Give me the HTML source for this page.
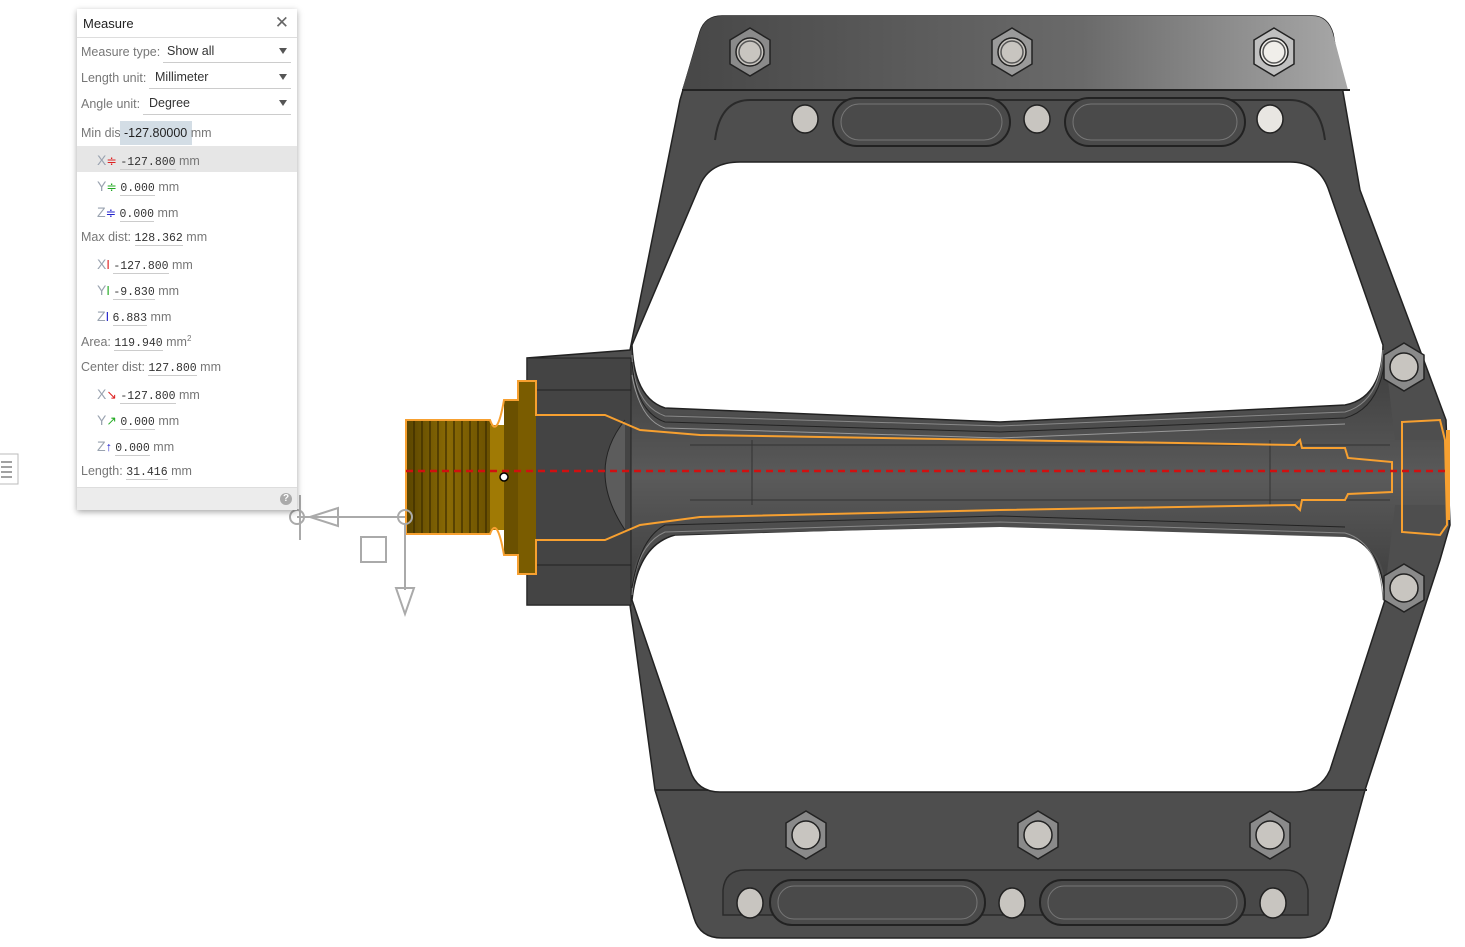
<!DOCTYPE html>
<html><head><meta charset="utf-8"><style>
body{margin:0;width:1465px;height:947px;background:#fff;position:relative;overflow:hidden;font-family:"Liberation Sans",sans-serif;}
#p{position:absolute;left:77px;top:9px;width:220px;height:501px;background:#fff;box-shadow:0 2px 6px rgba(0,0,0,.35);font-size:12.5px;color:#333;}
.r{position:absolute;left:4px;white-space:nowrap;}
.m{font-family:"Liberation Mono",monospace;font-size:11.5px;border-bottom:1px solid #ccc;color:#333}
.g{color:#777}
.ax{color:#9aa3b0;font-size:14px}
.sel{position:absolute;border-bottom:1px solid #ccc}
.tri{position:absolute;right:10px;width:0;height:0;border-left:4px solid transparent;border-right:4px solid transparent;border-top:6px solid #555}
</style></head><body>
<svg width="1465" height="947" style="position:absolute;left:0;top:0">
<defs>
<linearGradient id="tb" x1="0" x2="1"><stop offset="0" stop-color="#474747"/><stop offset="0.6" stop-color="#6a6a6a"/><stop offset="1" stop-color="#a8a8a8"/></linearGradient>
<linearGradient id="gd" x1="0" x2="1"><stop offset="0" stop-color="#5a4500"/><stop offset="0.5" stop-color="#8a6a05"/><stop offset="1" stop-color="#6a5000"/></linearGradient>
<linearGradient id="sp" y1="0" y2="1" x1="0" x2="0"><stop offset="0" stop-color="#3c3c3c"/><stop offset="0.5" stop-color="#5a5a5a"/><stop offset="1" stop-color="#3c3c3c"/></linearGradient>
</defs>
<path d="M722,16 L1312,16 Q1328,16 1333,34 L1360,190 L1420,350 L1446,420 L1450,525 L1440,560 L1365,790 L1330,918 Q1323,938 1300,938 L722,938 Q700,938 694,918 L655,790 L630,605 L527,605 L527,358 L630,350 L680,100 L700,32 Q705,16 722,16 Z" fill="#4e4e4e" stroke="#222" stroke-width="1.5"/>
<path d="M722,16 L1312,16 Q1328,16 1333,34 L1348,90 L682,90 L700,32 Q705,16 722,16 Z" fill="url(#tb)"/>
<line x1="682" y1="90" x2="1350" y2="90" stroke="#222" stroke-width="2"/>
<path d="M715,140 Q720,100 750,100 L1290,100 Q1320,100 1325,140" fill="none" stroke="#2a2a2a" stroke-width="2"/>
<line x1="655" y1="790" x2="1367" y2="790" stroke="#2a2a2a" stroke-width="2"/>
<path d="M723,915 L723,890 Q725,870 745,870 L1285,870 Q1305,870 1308,890 L1308,915 Z" fill="#484848" stroke="#2a2a2a" stroke-width="1.5"/>
<!-- holes -->
<path d="M700,185 Q710,162 740,162 L1290,162 Q1318,162 1328,188 L1383,345 Q1382,398 1345,405 L1000,422 L665,408 Q634,398 632,345 Z" fill="#fff" stroke="#222" stroke-width="1.5"/>
<path d="M632,600 Q638,545 675,535 L1000,525 L1345,535 Q1382,545 1385,600 L1330,770 Q1320,792 1295,792 L720,792 Q697,792 690,770 Z" fill="#fff" stroke="#222" stroke-width="1.5"/>
<!-- spindle body -->
<path d="M630,360 Q630,410 665,414 L1000,424 L1345,410 Q1385,400 1385,355 L1395,440 L1445,440 L1445,505 L1395,505 L1385,590 Q1385,545 1345,537 L1000,527 L665,535 Q632,540 630,600 Z" fill="url(#sp)"/>
<path d="M632,355 Q634,405 665,416 L1000,426 L1345,412 Q1380,402 1383,350" fill="none" stroke="#888" stroke-width="1"/>
<path d="M632,362 Q636,412 665,422 L1000,432 L1345,418 Q1380,408 1385,358" fill="none" stroke="#222" stroke-width="1"/>
<path d="M632,375 Q640,420 665,428 L1000,438 L1345,424" fill="none" stroke="#999" stroke-width="1"/>
<path d="M632,595 Q636,545 665,532 L1000,522 L1345,533 Q1380,543 1383,600" fill="none" stroke="#888" stroke-width="1"/>
<path d="M632,588 Q640,538 665,525 L1000,516 L1345,527" fill="none" stroke="#222" stroke-width="1"/>
<line x1="690" y1="445" x2="1390" y2="445" stroke="#333"/>
<line x1="690" y1="500" x2="1390" y2="500" stroke="#333"/>
<line x1="752" y1="440" x2="752" y2="505" stroke="#333"/>
<line x1="1270" y1="440" x2="1270" y2="505" stroke="#333"/>
<!-- housing -->
<rect x="527" y="358" width="104" height="247" fill="#444" stroke="#222"/>
<line x1="527" y1="390" x2="631" y2="390" stroke="#222"/>
<line x1="527" y1="565" x2="631" y2="565" stroke="#222"/>
<path d="M625,420 Q585,470 625,530" fill="#5c5c5c" stroke="#222"/>
<!-- axle gold -->
<rect x="406" y="420" width="85" height="114" fill="url(#gd)"/>
<g stroke="#3a2a00" stroke-width="1.2">
<line x1="414" y1="420" x2="414" y2="534"/><line x1="422" y1="420" x2="422" y2="534"/><line x1="430" y1="420" x2="430" y2="534"/><line x1="438" y1="420" x2="438" y2="534"/><line x1="446" y1="420" x2="446" y2="534"/><line x1="454" y1="420" x2="454" y2="534"/><line x1="462" y1="420" x2="462" y2="534"/><line x1="470" y1="420" x2="470" y2="534"/><line x1="478" y1="420" x2="478" y2="534"/><line x1="486" y1="420" x2="486" y2="534"/>
</g>
<rect x="490" y="425" width="16" height="105" fill="#a07a05"/>
<rect x="504" y="400" width="15" height="155" fill="#6a5000"/>
<rect x="518" y="381" width="18" height="193" fill="#7a5c00"/>
<path d="M406,420 L490,420 Q497,440 504,400 L518,400 L518,381 L536,381 L536,415 L605,415 L640,430 L700,435 L1000,440 L1295,445 L1300,440 L1302,448 L1345,448 L1348,458 L1392,462 L1392,492 L1348,494 L1345,500 L1302,500 L1300,510 L1295,505 L1000,510 L700,517 L640,525 L605,540 L536,540 L536,574 L518,574 L518,555 L504,555 Q497,515 490,534 L406,534 Z" fill="none" stroke="#f7a030" stroke-width="2"/>
<path d="M1402,422 L1440,420 L1445,440 L1447,525 L1440,535 L1402,532 Z" fill="none" stroke="#f7a030" stroke-width="2"/>
<line x1="1448" y1="430" x2="1448" y2="520" stroke="#f7a030" stroke-width="4"/>
<line x1="406" y1="471" x2="1450" y2="471" stroke="#d01010" stroke-width="2.5" stroke-dasharray="7,5"/>
<circle cx="504" cy="477" r="4" fill="#fff" stroke="#000" stroke-width="1.5"/>
<!-- slots -->
<g fill="#4a4a4a" stroke="#222" stroke-width="2">
<rect x="833" y="98" width="177" height="48" rx="24"/><rect x="1065" y="98" width="180" height="48" rx="24"/>
<rect x="770" y="880" width="215" height="45" rx="22"/><rect x="1040" y="880" width="205" height="45" rx="22"/>
</g>
<g fill="none" stroke="#777" stroke-width="1">
<rect x="841" y="104" width="161" height="36" rx="18"/><rect x="1073" y="104" width="164" height="36" rx="18"/>
<rect x="778" y="886" width="199" height="33" rx="16"/><rect x="1048" y="886" width="189" height="33" rx="16"/>
</g>
<g fill="#c8c5c0" stroke="#222" stroke-width="1.5">
<ellipse cx="805" cy="119" rx="13" ry="14"/><ellipse cx="1037" cy="119" rx="13" ry="14"/><ellipse cx="1270" cy="119" rx="13" ry="14" fill="#e8e6e2"/>
<ellipse cx="750" cy="903" rx="13" ry="15"/><ellipse cx="1012" cy="903" rx="13" ry="15"/><ellipse cx="1273" cy="903" rx="13" ry="15"/>
</g>
<!-- hex nuts -->
<g id="h">
</g>
<g stroke="#222" stroke-width="1.5">
<g transform="translate(750,52)"><polygon points="0,-24 20,-12 20,12 0,24 -20,12 -20,-12" fill="#8a8a8a"/><circle r="14" fill="#c8c5c0"/><circle r="11" fill="none" stroke="#555"/></g>
<g transform="translate(1012,52)"><polygon points="0,-24 20,-12 20,12 0,24 -20,12 -20,-12" fill="#9a9a9a"/><circle r="14" fill="#c8c5c0"/><circle r="11" fill="none" stroke="#555"/></g>
<g transform="translate(1274,52)"><polygon points="0,-24 20,-12 20,12 0,24 -20,12 -20,-12" fill="#c0c0c0"/><circle r="14" fill="#f0eeea"/><circle r="11" fill="none" stroke="#555"/></g>
<g transform="translate(1404,367)"><polygon points="0,-24 20,-12 20,12 0,24 -20,12 -20,-12" fill="#8a8a8a"/><circle r="14" fill="#c8c5c0"/></g>
<g transform="translate(1404,588)"><polygon points="0,-24 20,-12 20,12 0,24 -20,12 -20,-12" fill="#8a8a8a"/><circle r="14" fill="#c8c5c0"/></g>
<g transform="translate(806,835)"><polygon points="0,-24 20,-12 20,12 0,24 -20,12 -20,-12" fill="#8a8a8a"/><circle r="14" fill="#c8c5c0"/></g>
<g transform="translate(1038,835)"><polygon points="0,-24 20,-12 20,12 0,24 -20,12 -20,-12" fill="#8a8a8a"/><circle r="14" fill="#c8c5c0"/></g>
<g transform="translate(1270,835)"><polygon points="0,-24 20,-12 20,12 0,24 -20,12 -20,-12" fill="#8a8a8a"/><circle r="14" fill="#c8c5c0"/></g>
</g>
<!-- gizmo -->
<g fill="none" stroke="#aaa" stroke-width="2">
<line x1="297" y1="517" x2="405" y2="517"/>
<circle cx="297" cy="517" r="7"/><circle cx="405" cy="517" r="7"/>
<polygon points="310,517 338,508 338,526"/>
<line x1="405" y1="524" x2="405" y2="590"/>
<polygon points="396,588 414,588 405,614"/>
<rect x="361" y="537" width="25" height="25"/>
<line x1="300" y1="495" x2="300" y2="540"/>
</g>
<!-- left icon -->
<rect x="-2" y="454" width="20" height="30" fill="#fff" stroke="#bbb"/>
<g stroke="#444"><line x1="1" y1="462" x2="12" y2="462"/><line x1="1" y1="467" x2="12" y2="467"/><line x1="1" y1="472" x2="12" y2="472"/><line x1="1" y1="477" x2="12" y2="477"/></g>
</svg>
<div id="p">
<div class="r" style="left:6px;top:7px;font-size:13px;color:#222">Measure</div>
<div style="position:absolute;right:8px;top:6px;font-size:17px;color:#666;line-height:16px">✕</div>
<div style="position:absolute;left:0;right:0;top:28px;border-top:1px solid #ddd"></div>
<div class="r g" style="top:36px">Measure type:</div><div class="sel" style="left:86px;right:6px;top:34px;height:19px"><span style="position:absolute;left:4px;top:1px">Show all</span><div class="tri" style="right:4px;top:5px"></div></div>
<div class="r g" style="top:62px">Length unit:</div><div class="sel" style="left:72px;right:6px;top:60px;height:19px"><span style="position:absolute;left:6px;top:1px">Millimeter</span><div class="tri" style="right:4px;top:5px"></div></div>
<div class="r g" style="top:88px">Angle unit:</div><div class="sel" style="left:66px;right:6px;top:86px;height:19px"><span style="position:absolute;left:6px;top:1px">Degree</span><div class="tri" style="right:4px;top:5px"></div></div>
<div class="r g" style="top:117px">Min dis</div>
<div style="position:absolute;left:43px;top:112px;width:72px;height:24px;background:#d3dde5"></div>
<div class="r" style="left:47px;top:117px;color:#222">-127.80000 <span class="g">mm</span></div>
<div style="position:absolute;left:0;right:0;top:137px;height:26px;background:#e6e6e6"></div>
<div class="r" style="left:20px;top:143px"><span class="ax">X</span><span style="color:#d22">≑</span> <span class="m">-127.800</span> <span class="g">mm</span></div>
<div class="r" style="left:20px;top:169px"><span class="ax">Y</span><span style="color:#2a2">≑</span> <span class="m">0.000</span> <span class="g">mm</span></div>
<div class="r" style="left:20px;top:195px"><span class="ax">Z</span><span style="color:#22c">≑</span> <span class="m">0.000</span> <span class="g">mm</span></div>
<div class="r g" style="top:221px">Max dist: <span class="m">128.362</span> mm</div>
<div class="r" style="left:20px;top:247px"><span class="ax">X</span><span style="color:#d22">I</span> <span class="m">-127.800</span> <span class="g">mm</span></div>
<div class="r" style="left:20px;top:273px"><span class="ax">Y</span><span style="color:#2a2">I</span> <span class="m">-9.830</span> <span class="g">mm</span></div>
<div class="r" style="left:20px;top:299px"><span class="ax">Z</span><span style="color:#22c">I</span> <span class="m">6.883</span> <span class="g">mm</span></div>
<div class="r g" style="top:325px">Area: <span class="m">119.940</span> mm<sup style="font-size:8px">2</sup></div>
<div class="r g" style="top:351px">Center dist: <span class="m">127.800</span> mm</div>
<div class="r" style="left:20px;top:377px"><span class="ax">X</span><span style="color:#d22">↘</span> <span class="m">-127.800</span> <span class="g">mm</span></div>
<div class="r" style="left:20px;top:403px"><span class="ax">Y</span><span style="color:#2a2">↗</span> <span class="m">0.000</span> <span class="g">mm</span></div>
<div class="r" style="left:20px;top:429px"><span class="ax">Z</span><span style="color:#22c">↑</span> <span class="m">0.000</span> <span class="g">mm</span></div>
<div class="r g" style="top:455px">Length: <span class="m">31.416</span> mm</div>
<div style="position:absolute;left:0;right:0;bottom:0;height:22px;background:#ececec;border-top:1px solid #ddd"></div>
<div style="position:absolute;right:5px;bottom:5px;width:12px;height:12px;border-radius:6px;background:#aaa;color:#fff;font-size:10px;text-align:center;line-height:12px;font-weight:bold">?</div>
</div>
</body></html>
